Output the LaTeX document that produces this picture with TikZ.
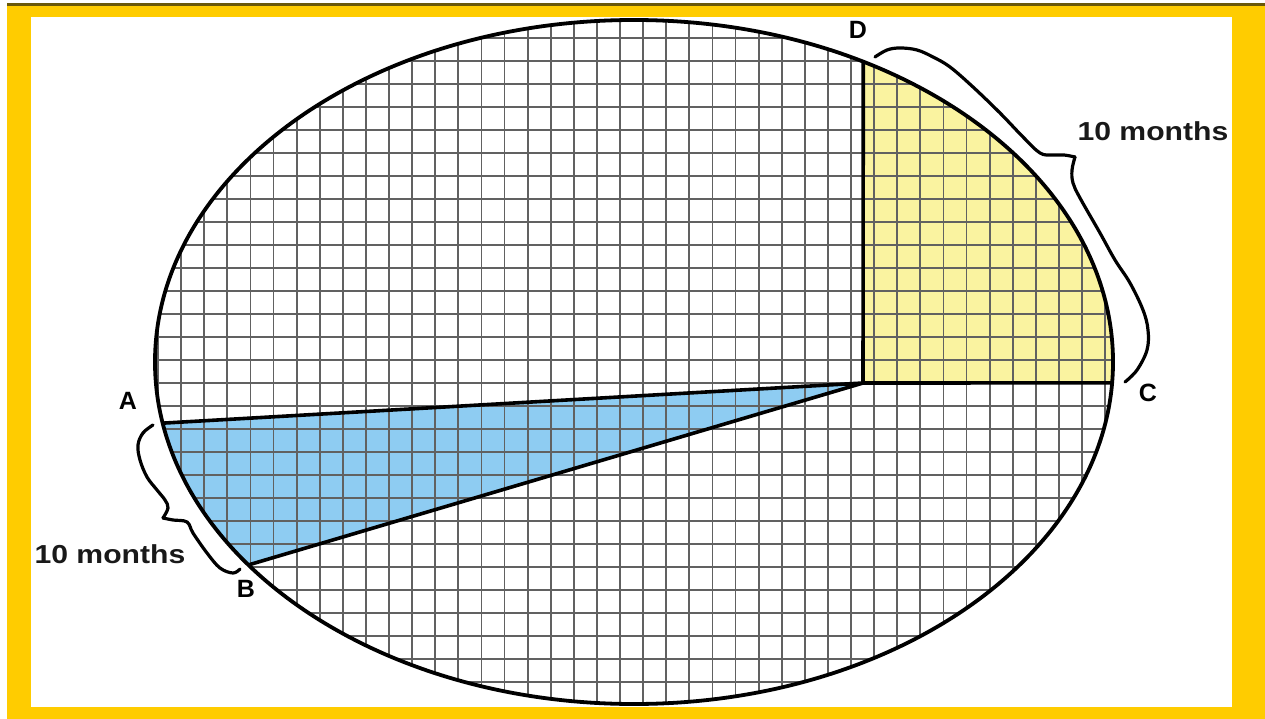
\documentclass[tikz,border=0pt]{standalone}
\usepackage{fontspec}
\setmainfont{Liberation Sans}
\newfontfamily\spanfont{Liberation Sans}[FakeStretch=1.16]
\usetikzlibrary{calc}
\definecolor{frameyellow}{RGB}{255,204,0}
\definecolor{framedark}{RGB}{105,88,10}
\definecolor{sweepblue}{RGB}{142,204,242}
\definecolor{sweepyellow}{RGB}{250,243,160}
\tikzset{
  orbit line/.style={line width=3.8pt},
  grid line/.style={line width=1.8pt,black!62},
  sweep line/.style={line width=3.6pt,line join=round},
  brace line/.style={line width=3.2pt,line cap=round,line join=miter},
  point label/.style={font=\fontsize{25}{29}\selectfont\bfseries,inner sep=0pt},
  span label/.style={font=\spanfont\fontsize{26}{31}\selectfont\bfseries,inner sep=0pt,text=black!90},
}
\begin{document}
\begin{tikzpicture}[x=1pt,y=-1pt]
  \useasboundingbox (0,0) rectangle (1265,719);
  % frame
  \fill[white] (0,0) rectangle (1265,719);
  \fill[frameyellow] (7,5) rectangle (1265,719);
  \fill[white] (31,17) rectangle (1232,707);
  \fill[framedark] (7,3.5) rectangle (1265,6);
  % orbit and swept areas
  \coordinate (O) at (634,362);
  \coordinate (S) at (863,383);
  \coordinate (A) at ($(O)+(169.7:479 and 342)$);
  \coordinate (B) at ($(O)+(143.6:479 and 342)$);
  \coordinate (C) at ($(O)+(3.5:479 and 342)$);
  \coordinate (D) at ($(O)+(-61.4:479 and 342)$);
  \fill[sweepblue] (S) -- (A) arc[start angle=169.7,end angle=143.6,x radius=479,y radius=342] -- cycle;
  \fill[sweepyellow] (S) -- (C) arc[start angle=3.5,end angle=-61.4,x radius=479,y radius=342] -- cycle;
  \begin{scope}
    \clip (O) ellipse [x radius=479,y radius=342];
    \foreach \k in {0,...,41}
      \draw[grid line] ({158+23.1*\k},0) -- ({158+23.1*\k},719);
    \foreach \j in {-16,...,14}
      \draw[grid line] (0,{383+23*\j}) -- (1265,{383+23*\j});
  \end{scope}
  \draw[sweep line] (A) -- (S) -- (B);
  \draw[sweep line] (D) -- (S) -- (C);
  \draw[orbit line] (O) ellipse [x radius=479,y radius=342];
  % labels
  \node[point label] (labA) at (128,401) {A};
  \node[point label] (labB) at (246,589) {B};
  \node[point label] (labC) at (1148,393) {C};
  \node[point label] (labD) at (858,30) {D};
  \node[span label] (spanDC) at (1153,131) {10 months};
  \node[span label] (spanAB) at (110,554) {10 months};
  % braces
  \draw[brace line] plot[smooth,tension=0.6] coordinates {(875,57) (887,50) (900,48) (917,50) (933,57) (950,67) (973,87) (1000,113) (1023,137) (1040,153) (1052,155) (1064,155) (1075,157)};
  \draw[brace line] plot[smooth,tension=0.6] coordinates {(1075,157) (1072,170) (1073,183) (1080,198) (1100,233) (1115,260) (1130,283) (1143,310) (1148,330) (1147,350) (1137,370) (1125,382)};
  \draw[brace line] plot[smooth,tension=0.6] coordinates {(153,425) (143,433) (138,445) (140,460) (147,477) (157,490) (165,500) (168,508) (163,518)};
  \draw[brace line] plot[smooth,tension=0.6] coordinates {(163,518) (173,520) (187,522) (193,533) (207,553) (220,568) (233,573) (240,569)};
\end{tikzpicture}
\end{document}
